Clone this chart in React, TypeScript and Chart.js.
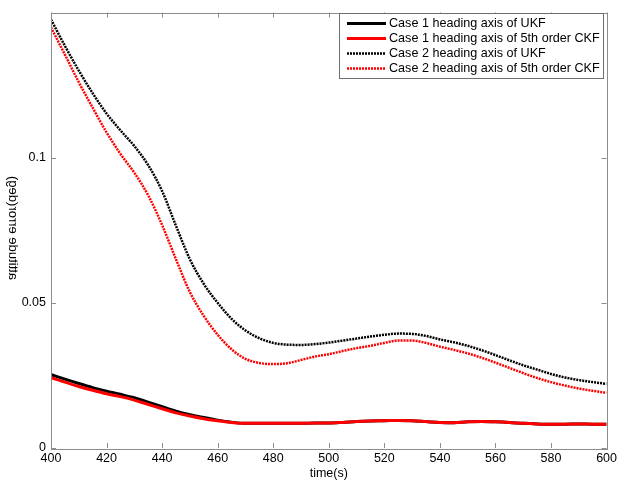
import { useEffect, useRef } from "react";
import { Chart, registerables } from "chart.js";

Chart.register(...registerables);

const timeS = [400, 405, 410, 415, 420, 425, 430, 435, 440, 445, 450, 455, 460, 465, 470, 475, 480, 485, 490, 495, 500, 505, 510, 515, 520, 525, 530, 535, 540, 545, 550, 555, 560, 565, 570, 575, 580, 585, 590, 595, 600];

const case1UKF = [0.0253, 0.0237, 0.0222, 0.0208, 0.0196, 0.0185, 0.0173, 0.0158, 0.0142, 0.0127, 0.0115, 0.0105, 0.0096, 0.0089, 0.0085, 0.0085, 0.0085, 0.0085, 0.0085, 0.0086, 0.0086, 0.0088, 0.0091, 0.0093, 0.0094, 0.0095, 0.0094, 0.0091, 0.0088, 0.0087, 0.009, 0.0091, 0.009, 0.0088, 0.0085, 0.0083, 0.0082, 0.0082, 0.0083, 0.0082, 0.0082];

const case1CKF = [0.0242, 0.0227, 0.0212, 0.0199, 0.0187, 0.0177, 0.0165, 0.015, 0.0135, 0.0121, 0.011, 0.0101, 0.0094, 0.0088, 0.0085, 0.0085, 0.0085, 0.0085, 0.0085, 0.0086, 0.0086, 0.0088, 0.0091, 0.0093, 0.0094, 0.0095, 0.0094, 0.0091, 0.0088, 0.0087, 0.009, 0.0091, 0.009, 0.0088, 0.0085, 0.0083, 0.0082, 0.0082, 0.0083, 0.0082, 0.0082];

const case2UKF = [0.1476, 0.1385, 0.13, 0.1222, 0.1152, 0.1094, 0.104, 0.0974, 0.0885, 0.0765, 0.065, 0.0565, 0.05, 0.0445, 0.0405, 0.0378, 0.0362, 0.0356, 0.0355, 0.0358, 0.0363, 0.037, 0.0377, 0.0384, 0.039, 0.0394, 0.0393, 0.0386, 0.0374, 0.0364, 0.0352, 0.0337, 0.032, 0.0302, 0.0285, 0.027, 0.0255, 0.0243, 0.0234, 0.0227, 0.0221];

const case2CKF = [0.1449, 0.1355, 0.126, 0.1172, 0.1087, 0.1013, 0.0948, 0.087, 0.0768, 0.065, 0.0537, 0.0455, 0.039, 0.034, 0.0307, 0.0293, 0.0289, 0.0292, 0.0303, 0.0315, 0.0323, 0.0334, 0.0344, 0.0352, 0.0362, 0.037, 0.037, 0.0362, 0.0349, 0.0338, 0.0326, 0.0311, 0.0294, 0.0276, 0.0258, 0.0241, 0.0227, 0.0215, 0.0205, 0.0197, 0.019];

const xTicks = [400, 420, 440, 460, 480, 500, 520, 540, 560, 580, 600];
const yTicks = [0, 0.05, 0.1];
const yTickLabels = ["0", "0.05", "0.1"];

const seriesNames = [
  "Case 1 heading axis of UKF",
  "Case 1 heading axis of 5th order CKF",
  "Case 2 heading axis of UKF",
  "Case 2 heading axis of 5th order CKF",
];

const FONT = "'Liberation Sans', Arial, sans-serif";
const AXIS_COLOR = "#8c8c8c";
const DOT: number[] = [2, 1];

const legendStyles = [
  { color: "#000000", width: 3, dash: [] as number[] },
  { color: "#ff0000", width: 3, dash: [] as number[] },
  { color: "#000000", width: 2.5, dash: DOT },
  { color: "#ff0000", width: 2.5, dash: DOT },
];

const framePlugin = {
  id: "frame",
  afterDraw(chart: any) {
    const ctx = chart.ctx as CanvasRenderingContext2D;
    const a = chart.chartArea;
    const xs = chart.scales.x;
    const ys = chart.scales.y;
    ctx.save();
    ctx.strokeStyle = AXIS_COLOR;
    ctx.lineWidth = 1;
    ctx.setLineDash([]);
    ctx.strokeRect(Math.round(a.left) + 0.5, Math.round(a.top) + 0.5, Math.round(a.right - a.left), Math.round(a.bottom - a.top));
    const tl = 5;
    ctx.beginPath();
    for (const v of xTicks) {
      const px = Math.round(xs.getPixelForValue(v)) + 0.5;
      ctx.moveTo(px, a.bottom);
      ctx.lineTo(px, a.bottom - tl);
      ctx.moveTo(px, a.top);
      ctx.lineTo(px, a.top + tl);
    }
    for (const v of yTicks) {
      const py = Math.round(ys.getPixelForValue(v)) + 0.5;
      ctx.moveTo(a.left, py);
      ctx.lineTo(a.left + tl, py);
      ctx.moveTo(a.right, py);
      ctx.lineTo(a.right - tl, py);
    }
    ctx.stroke();

    ctx.fillStyle = "#000";
    ctx.font = `12.5px ${FONT}`;
    ctx.textAlign = "center";
    ctx.textBaseline = "middle";
    ctx.fillText("time(s)", (a.left + a.right) / 2, 474);
    ctx.save();
    ctx.translate(13, 228);
    ctx.rotate(-Math.PI / 2);
    ctx.scale(1, -1);
    ctx.font = `13px ${FONT}`;
    ctx.fillText("attitude error(deg)", 0, 0);
    ctx.restore();

    const bx = 339.5, by = 13.5, bw = 264, bh = 65;
    ctx.fillStyle = "#fff";
    ctx.fillRect(bx, by, bw, bh);
    ctx.strokeStyle = "#6e6e6e";
    ctx.lineWidth = 1;
    ctx.strokeRect(bx, by, bw, bh);
    ctx.textAlign = "left";
    ctx.textBaseline = "middle";
    ctx.font = `12.6px ${FONT}`;
    seriesNames.forEach((name, i) => {
      const y = 23.5 + i * 15;
      const s = legendStyles[i];
      ctx.strokeStyle = s.color;
      ctx.lineWidth = s.width;
      ctx.setLineDash(s.dash);
      ctx.beginPath();
      ctx.moveTo(347, y);
      ctx.lineTo(386, y);
      ctx.stroke();
      ctx.setLineDash([]);
      ctx.fillStyle = "#000";
      ctx.fillText(name, 389, y + 0.5);
    });
    ctx.restore();
  },
};

export default function App() {
  const ref = useRef<HTMLCanvasElement>(null);
  useEffect(() => {
    const mk = (arr: number[]) => timeS.map((t, i) => ({ x: t, y: arr[i] }));
    const common = { pointRadius: 0, cubicInterpolationMode: "monotone" as const, fill: false };
    const chart = new Chart(ref.current!, {
      type: "line",
      data: {
        datasets: [
          { ...common, label: seriesNames[1], data: mk(case1CKF), borderColor: "#ff0000", borderWidth: 3, order: 0 },
          { ...common, label: seriesNames[0], data: mk(case1UKF), borderColor: "#000000", borderWidth: 3, order: 1 },
          { ...common, label: seriesNames[3], data: mk(case2CKF), borderColor: "#ff0000", borderWidth: 2.5, borderDash: DOT, order: 2 },
          { ...common, label: seriesNames[2], data: mk(case2UKF), borderColor: "#000000", borderWidth: 2.5, borderDash: DOT, order: 3 },
        ],
      },
      options: {
        responsive: false,
        animation: false,
        layout: { padding: { left: 0, top: 7, right: 11, bottom: 0 } },
        plugins: { legend: { display: false }, tooltip: { enabled: false } },
        scales: {
          x: {
            type: "linear",
            min: 400,
            max: 600,
            afterFit: (s: any) => { s.height = 35; },
            afterBuildTicks: (s: any) => { s.ticks = xTicks.map((v) => ({ value: v })); },
            ticks: {
              padding: 3,
              color: "#000",
              font: { family: FONT, size: 12.5 },
              maxRotation: 0,
              autoSkip: false,
              callback: (v: any) => String(v),
            },
            grid: { display: false, drawTicks: false },
            border: { display: false },
          },
          y: {
            type: "linear",
            min: 0,
            max: 0.15,
            afterFit: (s: any) => { s.width = 51; },
            afterBuildTicks: (s: any) => { s.ticks = yTicks.map((v) => ({ value: v })); },
            ticks: {
              padding: 5,
              color: "#000",
              font: { family: FONT, size: 12.5 },
              autoSkip: false,
              callback: (v: any) => {
                const i = yTicks.findIndex((t) => Math.abs(t - Number(v)) < 1e-9);
                return i >= 0 ? yTickLabels[i] : "";
              },
            },
            grid: { display: false, drawTicks: false },
            border: { display: false },
          },
        },
      },
      plugins: [framePlugin],
    });
    return () => chart.destroy();
  }, []);
  return (
    <div style={{ position: "fixed", left: 0, top: 0, width: 620, height: 483, background: "#fff" }}>
      <canvas ref={ref} width={620} height={483} style={{ display: "block" }} />
    </div>
  );
}
